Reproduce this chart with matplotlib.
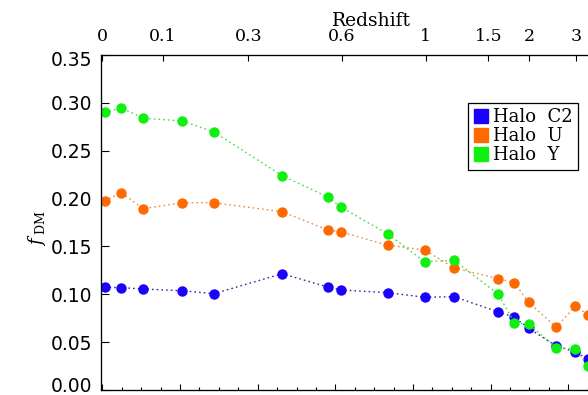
import matplotlib
matplotlib.use("Agg")
import matplotlib.pyplot as plt
import matplotlib.transforms as mtransforms
from matplotlib.ticker import MultipleLocator
from matplotlib.lines import Line2D

# lookback time (Gyr) of each snapshot
t_snap = [0.06, 0.49, 1.05, 2.06, 2.87, 4.63, 5.80, 6.15, 7.35, 8.30,
          9.06, 10.20, 10.61, 10.98, 11.69, 12.18, 12.51]

f_c2 = [0.1073, 0.1069, 0.1055, 0.1037, 0.1006, 0.1215, 0.1076, 0.1045, 0.1017,
        0.0969, 0.0975, 0.0815, 0.0760, 0.0645, 0.0460, 0.0397, 0.0321]
f_u = [0.1978, 0.2062, 0.1894, 0.1957, 0.1957, 0.1863, 0.1672, 0.1651, 0.1512,
       0.1463, 0.1275, 0.1163, 0.1121, 0.0916, 0.0655, 0.0878, 0.0784]
f_y = [0.2902, 0.2947, 0.2839, 0.2811, 0.2696, 0.2239, 0.2017, 0.1909, 0.1630,
       0.1341, 0.1355, 0.1000, 0.0703, 0.0687, 0.0442, 0.0428, 0.0251]

# redshift ticks on the top axis and where they sit in lookback time
z_labels = ["0", "0.1", "0.3", "0.6", "1", "1.5", "2", "3"]
z_pos = [0.0, 1.56, 3.76, 6.16, 8.33, 9.94, 11.0, 12.21]

names = ["Halo  C2", "Halo  U", "Halo  Y"]
colors = ["#1a00ff", "#ff6a00", "#10f010"]
line_colors = ["#3a2a9a", "#f08a40", "#40e040"]

plt.rcParams['mathtext.fontset'] = 'dejavuserif'

fig = plt.figure(figsize=(5.88, 3.95), dpi=100)
# axes run past the right edge of the picture (it is cropped)
ax = fig.add_axes([100.5 / 588, 5 / 395, 0.921, 335 / 395])

for y, c, lc in zip([f_c2, f_u, f_y], colors, line_colors):
    ax.plot(t_snap, y, linestyle=(0, (1.2, 2.2)), color=lc, lw=1.0)
    ax.plot(t_snap, y, 'o', color=c, markersize=7.5, markeredgewidth=0)

ax.set_xlim(-0.05, 13.9)
ax.set_ylim(0, 0.35)

ax.xaxis.set_major_locator(MultipleLocator(2))
ax.xaxis.set_minor_locator(MultipleLocator(0.5))
ax.yaxis.set_major_locator(MultipleLocator(0.05))
ax.yaxis.set_minor_locator(MultipleLocator(0.01))
ax.tick_params(axis='x', which='both', direction='in', labelbottom=False, top=False)
ax.tick_params(axis='x', which='major', length=4, width=0.8)
ax.tick_params(axis='x', which='minor', length=2.5, width=0.8)
ax.tick_params(axis='y', which='both', direction='in', right=False)
ax.tick_params(axis='y', which='major', length=6, width=0.8, pad=6, labelsize=13.5)
ax.tick_params(axis='y', which='minor', length=3, width=0.8)
ax.yaxis.set_major_formatter(plt.FormatStrFormatter('%.2f'))

for s in ax.spines.values():
    s.set_linewidth(0.9)
    s.set_color('#222222')

ax2 = ax.twiny()
ax2.set_xlim(ax.get_xlim())
ax2.set_xticks(z_pos)
ax2.set_xticklabels(z_labels, family='DejaVu Serif', fontsize=12.5)
ax2.tick_params(axis='x', which='major', direction='in', length=4, width=0.8, pad=7)
ax2.minorticks_off()
ax2.set_xlabel('Redshift', family='DejaVu Serif', fontsize=13.5, labelpad=2)

fig.text(37 / 588, 1 - 228 / 395, r'$f_{\ \rm DM}$', rotation=90,
         fontsize=13, ha='center', va='center')

handles = [Line2D([], [], marker='s', linestyle='none', color=c, markersize=9.5)
           for c in colors]
leg = ax.legend(handles, names, loc='upper left',
                bbox_to_anchor=(468 / 588, 1 - 103 / 395), bbox_transform=fig.transFigure,
                frameon=True, fancybox=False, edgecolor='black', framealpha=1,
                prop={'family': 'DejaVu Serif', 'size': 13},
                handlelength=0.8, handletextpad=0.3, labelspacing=0.05,
                borderpad=0.3, borderaxespad=0)
leg.get_frame().set_linewidth(0.9)

# end labels sit a little inside the axis, as in the reference
fig.canvas.draw()
labs = ax.get_yticklabels()
for lab in labs:
    txt = lab.get_text()
    if txt == '0.00':
        lab.set_transform(lab.get_transform() +
                          mtransforms.ScaledTranslation(0, 6 / 100, fig.dpi_scale_trans))
    elif txt == '0.35':
        lab.set_transform(lab.get_transform() +
                          mtransforms.ScaledTranslation(0, -4 / 100, fig.dpi_scale_trans))

fig.savefig("out.png", dpi=100)
